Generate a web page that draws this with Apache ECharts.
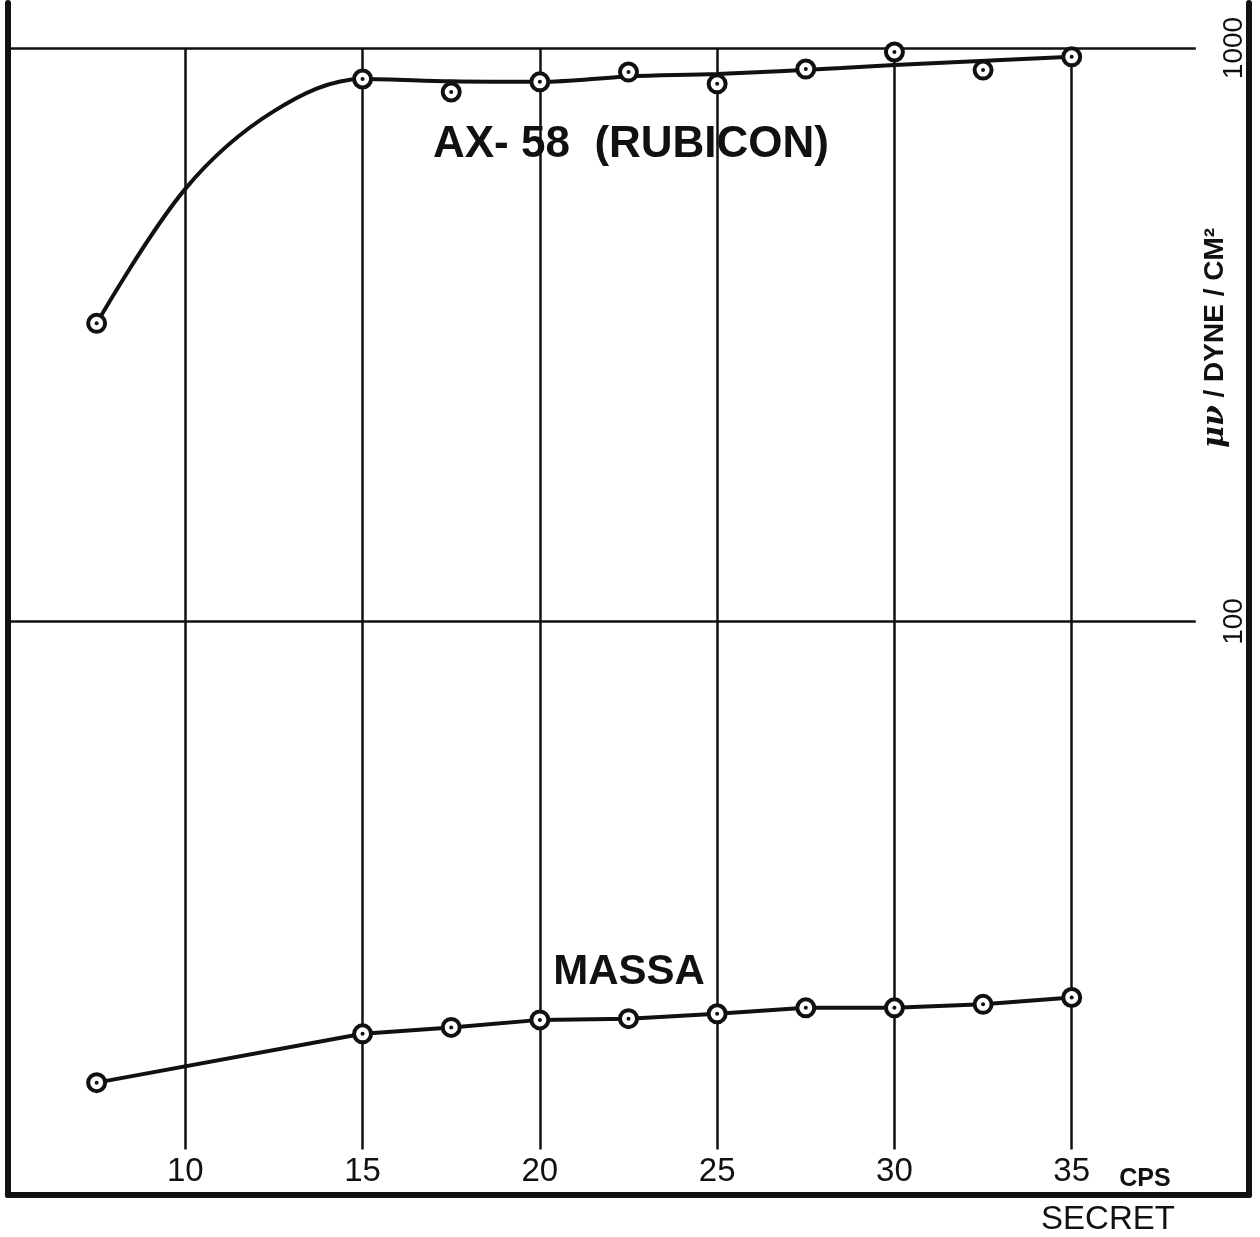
<!DOCTYPE html>
<html>
<head>
<meta charset="utf-8">
<title>AX-58 (RUBICON) / MASSA</title>
<script src="https://cdn.jsdelivr.net/npm/echarts@6/dist/echarts.min.js"></script>
<style>
  html, body { margin: 0; padding: 0; background: #fff; }
  #chart { width: 1260px; height: 1237px; }
</style>
</head>
<body>
<div id="chart"></div>
<script>
// frequency (cps) of the measured points
const cps = [7.5, 15, 17.5, 20, 22.5, 25, 27.5, 30, 32.5, 35]
// sensitivity, uV / dyne / cm2
const ax58Points = [331, 883, 838, 873, 908, 866, 919, 984, 915, 965]
const massaPoints = [15.7, 19.1, 19.6, 20.2, 20.3, 20.7, 21.2, 21.2, 21.5, 22.1]
// hand-drawn curve through the AX-58 points
const ax58CurveCps = [7.5, 10, 12.5, 15, 17.5, 20, 22.5, 25, 28.5, 30, 35]
const ax58CurveValues = [331, 568, 776, 883, 875, 873, 892, 901, 923, 934, 965]
// tick labels
const xTickLabels = [10, 15, 20, 25, 30, 35]
const yTickLabels = [100, 1000]

const ink = '#111'
const font = 'Liberation Sans, Arial, sans-serif'

const pairs = (xs, ys) => xs.map((x, i) => [x, ys[i]])

const chart = echarts.init(document.getElementById('chart'))

const gridLines = [
  ...xTickLabels.map(v => [{ coord: [v, 12] }, { coord: [v, 1000] }]),
  ...yTickLabels.map(v => [{ coord: [5, v] }, { coord: [38.5, v] }])
]

// open circle with a dot in the middle, drawn as two stacked scatters
const ring = {
  type: 'scatter',
  symbol: 'circle',
  symbolSize: 17,
  itemStyle: { color: '#fff', borderColor: ink, borderWidth: 4, opacity: 1 },
  z: 4,
  silent: true
}
const dot = {
  type: 'scatter',
  symbol: 'circle',
  symbolSize: 4,
  itemStyle: { color: ink, opacity: 1 },
  z: 5,
  silent: true
}

chart.setOption({
  animation: false,
  backgroundColor: '#fff',
  grid: { left: 8, right: 11, top: 0, bottom: 42 },
  xAxis: {
    type: 'value',
    min: 5,
    max: 40,
    interval: 5,
    axisLine: { onZero: false, lineStyle: { color: ink, width: 6 } },
    axisTick: { show: false },
    splitLine: { show: false },
    axisLabel: {
      inside: true,
      margin: 7,
      color: ink,
      fontFamily: font,
      fontSize: 33,
      formatter: v => (xTickLabels.includes(v) ? String(v) : '')
    }
  },
  yAxis: [
    {
      type: 'log',
      min: 10,
      max: 1198,
      position: 'left',
      axisLine: { show: true, lineStyle: { color: ink, width: 6 } },
      axisTick: { show: false },
      splitLine: { show: false },
      axisLabel: { show: false }
    },
    {
      type: 'log',
      min: 10,
      max: 1198,
      position: 'right',
      axisLine: { show: true, lineStyle: { color: ink, width: 6 } },
      axisTick: { show: false },
      splitLine: { show: false },
      axisLabel: {
        inside: true,
        rotate: 90,
        margin: 1,
        color: ink,
        fontFamily: font,
        fontSize: 28,
        formatter: v => (yTickLabels.includes(Math.round(v)) ? String(Math.round(v)) : '')
      }
    }
  ],
  series: [
    {
      name: 'grid',
      type: 'line',
      data: [],
      silent: true,
      markLine: {
        silent: true,
        z: 1,
        symbol: 'none',
        label: { show: false },
        lineStyle: { color: ink, width: 2.5, type: 'solid' },
        data: gridLines
      }
    },
    {
      name: 'AX-58 curve',
      type: 'line',
      data: pairs(ax58CurveCps, ax58CurveValues),
      smooth: 0.35,
      showSymbol: false,
      lineStyle: { color: ink, width: 4 },
      z: 3,
      silent: true
    },
    { ...ring, name: 'AX-58', data: pairs(cps, ax58Points) },
    { ...dot, name: 'AX-58 dot', data: pairs(cps, ax58Points) },
    {
      name: 'MASSA line',
      type: 'line',
      data: pairs(cps, massaPoints),
      showSymbol: false,
      lineStyle: { color: ink, width: 4 },
      z: 3,
      silent: true
    },
    { ...ring, name: 'MASSA', data: pairs(cps, massaPoints) },
    { ...dot, name: 'MASSA dot', data: pairs(cps, massaPoints) }
  ],
  graphic: [
    {
      type: 'text', x: 631, y: 145,
      style: { text: 'AX- 58  (RUBICON)', fill: ink, font: 'bold 44px ' + font, align: 'center', verticalAlign: 'middle' }
    },
    {
      type: 'text', x: 629, y: 972,
      style: { text: 'MASSA', fill: ink, font: 'bold 42px ' + font, align: 'center', verticalAlign: 'middle' }
    },
    {
      type: 'text', x: 1145, y: 1179,
      style: { text: 'CPS', fill: ink, font: 'bold 25px ' + font, align: 'center', verticalAlign: 'middle' }
    },
    {
      type: 'text', x: 1108, y: 1220,
      style: { text: 'SECRET', fill: ink, font: '33px ' + font, align: 'center', verticalAlign: 'middle' }
    },
    {
      type: 'text', x: 1215, y: 338, rotation: Math.PI / 2,
      style: {
        text: '{i|μν} / DYNE / CM²',
        fill: ink,
        font: 'bold 28px ' + font,
        align: 'center',
        verticalAlign: 'middle',
        rich: { i: { font: 'italic bold 30px DejaVu Serif, serif', fill: ink } }
      }
    }
  ]
})
</script>
</body>
</html>
